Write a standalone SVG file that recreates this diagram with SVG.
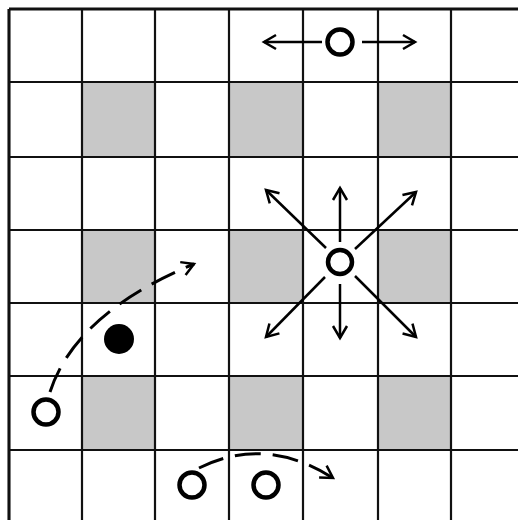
<svg xmlns="http://www.w3.org/2000/svg" width="518" height="520" viewBox="0 0 518 520">
<style>
.cell{fill:#c8c8c8}
.grid{stroke:#111;stroke-width:2.2;fill:none}
.ring{fill:#fff;stroke:#000;stroke-width:4.5}
.dot{fill:#000}
.arr{stroke:#000;stroke-width:2.5;fill:none;marker-end:url(#ah)}
.dash{stroke:#000;stroke-width:3;fill:none;stroke-dasharray:26 12;marker-end:url(#ah)}
</style>
<defs>
<marker id="ah" markerUnits="userSpaceOnUse" viewBox="-16 -10 19 20" markerWidth="19" markerHeight="20" refX="0" refY="0" orient="auto">
<path d="M-12,-7 L0,0 L-12,7" fill="none" stroke="#000" stroke-width="2.5" stroke-linejoin="miter"/>
</marker>
</defs>
<rect width="518" height="520" fill="#fff"/>
<g id="shading">
<rect class="cell" x="82" y="82" width="73" height="75"/>
<rect class="cell" x="229" y="82" width="74" height="75"/>
<rect class="cell" x="378" y="82" width="73" height="75"/>
<rect class="cell" x="82" y="230" width="73" height="73"/>
<rect class="cell" x="229" y="230" width="74" height="73"/>
<rect class="cell" x="378" y="230" width="73" height="73"/>
<rect class="cell" x="82" y="376" width="73" height="74"/>
<rect class="cell" x="229" y="376" width="74" height="74"/>
<rect class="cell" x="378" y="376" width="73" height="74"/>
</g>
<g id="grid" class="grid">
<path d="M9,9 H518 M9,82 H518 M9,157 H518 M9,230 H518 M9,303 H518 M9,376 H518 M9,450 H518"/>
<path d="M9,9 V520 M82,9 V520 M155,9 V520 M229,9 V520 M303,9 V520 M378,9 V520 M451,9 V520"/>
<path d="M9,9 H518 M9,9 V520" stroke-width="3"/>
</g>
<g id="connectors">
<line class="arr" x1="322" y1="42" x2="264" y2="42"/>
<line class="arr" x1="362" y1="42" x2="415" y2="42"/>
<line class="arr" x1="340" y1="242" x2="340" y2="188"/>
<line class="arr" x1="340" y1="284" x2="340" y2="338"/>
<line class="arr" x1="326" y1="248" x2="266" y2="190"/>
<line class="arr" x1="355" y1="249" x2="416" y2="192"/>
<line class="arr" x1="325" y1="277" x2="266" y2="337"/>
<line class="arr" x1="355" y1="276" x2="416" y2="337"/>
<path class="dash" d="M50,392 C62,355 95,305 194,264"/>
<path class="dash" d="M199,468 Q265,435 333,478"/>
</g>
<g id="node-top"><circle class="ring" cx="340" cy="42" r="12.5"/></g>
<g id="node-center"><circle class="ring" cx="340" cy="262" r="12"/></g>
<g id="node-black"><circle class="dot" cx="119" cy="339" r="15"/></g>
<g id="node-left"><circle class="ring" cx="46" cy="412" r="12.5"/></g>
<g id="node-bottom1"><circle class="ring" cx="192" cy="485" r="12.5"/></g>
<g id="node-bottom2"><circle class="ring" cx="266" cy="485" r="12.5"/></g>
</svg>
